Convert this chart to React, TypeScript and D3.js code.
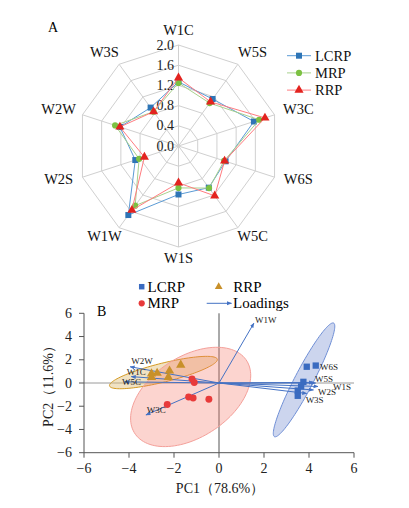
import React from 'react';
import * as d3 from 'd3';

// ---------- Radar (A) data ----------
const radarAxes = ['W1C', 'W5S', 'W3C', 'W6S', 'W5C', 'W1S', 'W1W', 'W2S', 'W2W', 'W3S'];
const radarTicks = [0, 0.4, 0.8, 1.2, 1.6, 2.0];
const lcrpRadar = [1.27, 1.15, 1.57, 0.98, 1.02, 0.96, 1.69, 0.9, 1.22, 0.94];
const mrpRadar = [1.25, 1.05, 1.68, 0.95, 1.03, 0.83, 1.46, 0.82, 1.32, 0.84];
const rrpRadar = [1.35, 1.08, 1.8, 0.96, 1.22, 0.73, 1.57, 0.71, 1.22, 0.84];
const groupNames = ['LCRP', 'MRP', 'RRP'];

// ---------- PCA (B) data ----------
const pcaTicks = [-6, -4, -2, 0, 2, 4, 6];
const lcrpX = [3.9, 4.3, 3.75, 3.65, 3.5, 3.5];
const lcrpY = [1.4, 1.5, 0.1, -0.3, -0.65, -1.1];
const mrpX = [-1.2, -1.1, -1.35, -1.15, -0.45, -2.3];
const mrpY = [0.35, 0.05, -1.2, -1.3, -1.4, -1.85];
const rrpX = [-1.7, -2.2, -2.75, -3.0, -3.0, -2.25];
const rrpY = [1.55, 1.05, 0.85, 0.8, 0.5, 0.5];

const loadingNames = ['W1W', 'W2W', 'W1C', 'W5C', 'W3C', 'W6S', 'W5S', 'W1S', 'W2S', 'W3S'];
const loadingX = [1.55, -3.95, -3.9, -4.2, -3.25, 4.2, 4.3, 4.4, 4.2, 3.9];
const loadingY = [5.15, 1.4, 0.55, 0.1, -2.75, 0.05, 0.0, -0.3, -0.6, -0.9];
const loadingLabelX = [1.6, -3.9, -4.1, -4.31, -3.21, 4.49, 4.27, 5.07, 4.4, 3.85];
const loadingLabelY = [5.43, 1.92, 0.92, 0.06, -2.33, 1.35, 0.32, -0.37, -0.75, -1.47];

// confidence ellipses: LCRP, MRP, RRP
const ellCx = [3.78, -1.26, -2.47];
const ellCy = [0.27, -1.2, 0.9];
const ellA = [5.07, 4.49, 2.67];
const ellB = [0.45, 2.29, 0.75];
const ellAngle = [75.2, 69.2, 27.3];

const FONT = '"Liberation Serif", "Times New Roman", serif';

function Radar() {
  const cx = 178.5;
  const cy = 146;
  const n = radarAxes.length;
  const r = d3.scaleLinear().domain([0, 2]).range([0, 101]);
  const ang = (i: number) => (i * 2 * Math.PI) / n;
  const pt = (i: number, v: number): [number, number] => [
    cx + r(v) * Math.sin(ang(i)),
    cy - r(v) * Math.cos(ang(i)),
  ];
  const line = d3.line<[number, number]>().curve(d3.curveLinearClosed);
  const series = [
    { name: 'LCRP', vals: lcrpRadar, line: '#5b9bd5', mark: '#2e75b6', shape: 'square' },
    { name: 'MRP', vals: mrpRadar, line: '#a9d18e', mark: '#7cc142', shape: 'circle' },
    { name: 'RRP', vals: rrpRadar, line: '#ff7c80', mark: '#e3231f', shape: 'triangle' },
  ];
  const sym = (shape: string, s: number) =>
    d3.symbol().type(shape === 'square' ? d3.symbolSquare : shape === 'circle' ? d3.symbolCircle : d3.symbolTriangle).size(s)();

  return (
    <g>
      <text x={53} y={27} fontFamily={FONT} fontSize={14} dominantBaseline="central" textAnchor="middle">A</text>
      {radarTicks.slice(1).map((t) => (
        <path key={'ring' + t} d={line(radarAxes.map((_, i) => pt(i, t))) || ''} fill="none" stroke="#d0d0d0" strokeWidth={1} />
      ))}
      {radarAxes.map((_, i) => {
        const [x, y] = pt(i, 2);
        return <line key={'sp' + i} x1={cx} y1={cy} x2={x} y2={y} stroke="#d0d0d0" strokeWidth={1} />;
      })}
      {radarTicks.map((t) => (
        <text key={'tk' + t} x={174} y={cy - r(t)} fontFamily={FONT} fontSize={14} textAnchor="end" dominantBaseline="central" fill="#222">
          {t.toFixed(1)}
        </text>
      ))}
      {radarAxes.map((a, i) => (
        <text
          key={'lab' + a}
          x={cx + 126 * Math.sin(ang(i))}
          y={cy - 2 - 114 * Math.cos(ang(i))}
          fontFamily={FONT}
          fontSize={14.5}
          textAnchor="middle"
          dominantBaseline="central"
          fill="#111"
        >
          {a}
        </text>
      ))}
      {series.map((s) => (
        <g key={s.name}>
          <path d={line(s.vals.map((v, i) => pt(i, v))) || ''} fill="none" stroke={s.line} strokeWidth={1} />
          {s.vals.map((v, i) => {
            const [x, y] = pt(i, v);
            return <path key={i} d={sym(s.shape, s.shape === 'circle' ? 30 : 36) || ''} transform={`translate(${x},${y})`} fill={s.mark} />;
          })}
        </g>
      ))}
      {series.map((s, k) => {
        const y = 55.7 + k * 17.2;
        return (
          <g key={'lg' + s.name}>
            <line x1={287} x2={311} y1={y} y2={y} stroke={s.line} strokeWidth={1} />
            <path d={sym(s.shape, s.shape === 'circle' ? 30 : 36) || ''} transform={`translate(299,${y})`} fill={s.mark} />
            <text x={315} y={y} fontFamily={FONT} fontSize={14.5} dominantBaseline="central" fill="#111">
              {groupNames[k]}
            </text>
          </g>
        );
      })}
    </g>
  );
}

function PCA() {
  const x = d3.scaleLinear().domain([-6, 6]).range([84, 354]);
  const y = d3.scaleLinear().domain([-6, 6]).range([452.7, 313.3]);
  const ellipse = (k: number) => {
    const th = (ellAngle[k] * Math.PI) / 180;
    const pts: [number, number][] = d3.range(0, 120).map((j) => {
      const t = (j / 120) * 2 * Math.PI;
      const dx = ellA[k] * Math.cos(t) * Math.cos(th) - ellB[k] * Math.sin(t) * Math.sin(th);
      const dy = ellA[k] * Math.cos(t) * Math.sin(th) + ellB[k] * Math.sin(t) * Math.cos(th);
      return [x(ellCx[k] + dx), y(ellCy[k] + dy)];
    });
    return d3.line().curve(d3.curveLinearClosed)(pts) || '';
  };
  const ellStyle = [
    { fill: 'rgba(110,135,205,0.35)', stroke: '#6f8fd6' },
    { fill: 'rgba(245,120,105,0.32)', stroke: '#f4a09a' },
    { fill: 'rgba(225,190,120,0.45)', stroke: '#d49a22' },
  ];
  const blue = '#4472c4';
  const sq = d3.symbol().type(d3.symbolSquare).size(40)() || '';
  const ci = d3.symbol().type(d3.symbolCircle).size(38)() || '';
  const tri = d3.symbol().type(d3.symbolTriangle).size(38)() || '';
  const sqL = d3.symbol().type(d3.symbolSquare).size(30)() || '';
  const ciL = d3.symbol().type(d3.symbolCircle).size(30)() || '';
  const triL = d3.symbol().type(d3.symbolTriangle).size(26)() || '';
  const fmt = (t: number) => d3.format('')(t).replace('-', '\u2212');

  return (
    <g>
      <defs>
        <marker id="arr" viewBox="0 0 10 10" refX={9} refY={5} markerWidth={5} markerHeight={5} orient="auto" markerUnits="userSpaceOnUse">
          <path d="M0,1 L10,5 L0,9 z" fill={blue} />
        </marker>
      </defs>
      {/* legend */}
      <path d={sqL} transform="translate(141.7,286.7)" fill="#3a6bc0" />
      <text x={147.5} y={286.7} fontFamily={FONT} fontSize={15} dominantBaseline="central">LCRP</text>
      <path d={triL} transform="translate(218.7,286.7)" fill="#c8902a" />
      <text x={233.3} y={286.7} fontFamily={FONT} fontSize={15} dominantBaseline="central">RRP</text>
      <path d={ciL} transform="translate(141.7,303.3)" fill="#e83a3a" />
      <text x={147.5} y={303.3} fontFamily={FONT} fontSize={15} dominantBaseline="central">MRP</text>
      <line x1={206.7} x2={231.5} y1={303.3} y2={303.3} stroke={blue} strokeWidth={1} markerEnd="url(#arr)" />
      <text x={233} y={303.3} fontFamily={FONT} fontSize={15} dominantBaseline="central">Loadings</text>
      <text x={101.7} y={311.7} fontFamily={FONT} fontSize={14} dominantBaseline="central" textAnchor="middle">B</text>

      {/* zero lines */}
      <line x1={x(-6)} x2={x(6)} y1={y(0)} y2={y(0)} stroke="#9a9a9a" strokeWidth={1} />
      <line x1={x(0)} x2={x(0)} y1={y(6)} y2={y(-6)} stroke="#555" strokeWidth={1} />

      {/* ellipses */}
      {[2, 1, 0].map((k) => (
        <path key={'e' + k} d={ellipse(k)} fill={ellStyle[k].fill} stroke={ellStyle[k].stroke} strokeWidth={1} />
      ))}

      {/* loadings */}
      {loadingNames.map((nm, i) => (
        <line key={'ld' + nm} x1={x(0)} y1={y(0)} x2={x(loadingX[i])} y2={y(loadingY[i])} stroke={blue} strokeWidth={1} markerEnd="url(#arr)" />
      ))}

      {/* points */}
      {rrpX.map((v, i) => (
        <path key={'r' + i} d={tri} transform={`translate(${x(v)},${y(rrpY[i])})`} fill="#c8902a" />
      ))}
      {mrpX.map((v, i) => (
        <path key={'m' + i} d={ci} transform={`translate(${x(v)},${y(mrpY[i])})`} fill="#e83a3a" />
      ))}
      {lcrpX.map((v, i) => (
        <path key={'l' + i} d={sq} transform={`translate(${x(v)},${y(lcrpY[i])})`} fill="#3a6bc0" />
      ))}

      {loadingNames.map((nm, i) => (
        <text key={'lt' + nm} x={x(loadingLabelX[i])} y={y(loadingLabelY[i])} fontFamily={FONT} fontSize={9} dominantBaseline="central" fill="#222">
          {nm}
        </text>
      ))}

      {/* axes */}
      <line x1={x(-6)} x2={x(-6)} y1={y(6)} y2={y(-6)} stroke="#555" strokeWidth={1} />
      <line x1={x(-6)} x2={x(6)} y1={y(-6)} y2={y(-6)} stroke="#555" strokeWidth={1} />
      {pcaTicks.map((t) => (
        <g key={'yt' + t}>
          <line x1={x(-6) - 5} x2={x(-6)} y1={y(t)} y2={y(t)} stroke="#555" />
          <text x={x(-6) - 12} y={y(t)} fontFamily={FONT} fontSize={14} textAnchor="end" dominantBaseline="central" fill="#222">
            {fmt(t)}
          </text>
        </g>
      ))}
      {pcaTicks.map((t) => (
        <g key={'xt' + t}>
          <line x1={x(t)} x2={x(t)} y1={y(-6)} y2={y(-6) + 5} stroke="#555" />
          <text x={x(t)} y={y(-6) + 16} fontFamily={FONT} fontSize={14} textAnchor="middle" dominantBaseline="central" fill="#222">
            {fmt(t)}
          </text>
        </g>
      ))}
      <text x={220} y={488} fontFamily={FONT} fontSize={14} textAnchor="middle" dominantBaseline="central" fill="#222">
        PC1（78.6%）
      </text>
      <text transform="translate(48,383) rotate(-90)" fontFamily={FONT} fontSize={14} textAnchor="middle" dominantBaseline="central" fill="#222">
        PC2（11.6%）
      </text>
    </g>
  );
}

export default function App() {
  return (
    <svg width={409} height={508} style={{ position: 'absolute', left: 0, top: 0, background: '#fff' }}>
      <Radar />
      <PCA />
    </svg>
  );
}
